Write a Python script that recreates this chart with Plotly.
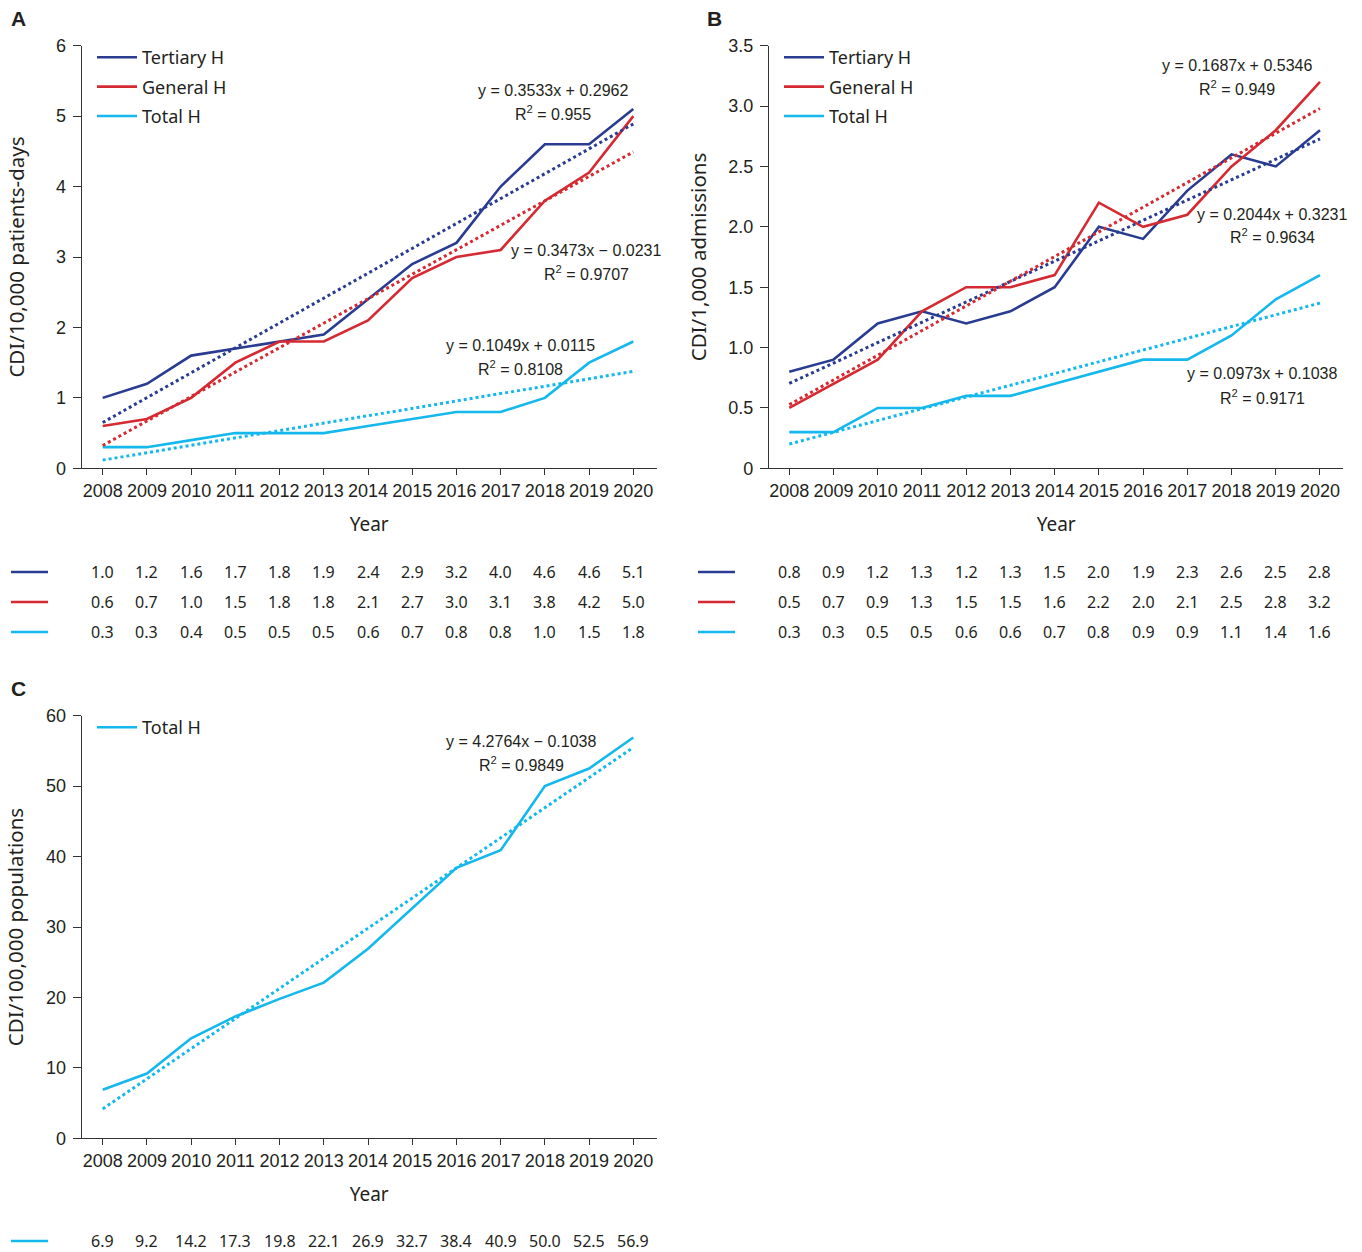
import plotly.graph_objects as go

# ---------------- data ----------------
years = [2008, 2009, 2010, 2011, 2012, 2013, 2014, 2015, 2016, 2017, 2018, 2019, 2020]
series_names = ["Tertiary H", "General H", "Total H"]

a_tertiary = [1.0, 1.2, 1.6, 1.7, 1.8, 1.9, 2.4, 2.9, 3.2, 4.0, 4.6, 4.6, 5.1]
a_general = [0.6, 0.7, 1.0, 1.5, 1.8, 1.8, 2.1, 2.7, 3.0, 3.1, 3.8, 4.2, 5.0]
a_total = [0.3, 0.3, 0.4, 0.5, 0.5, 0.5, 0.6, 0.7, 0.8, 0.8, 1.0, 1.5, 1.8]

b_tertiary = [0.8, 0.9, 1.2, 1.3, 1.2, 1.3, 1.5, 2.0, 1.9, 2.3, 2.6, 2.5, 2.8]
b_general = [0.5, 0.7, 0.9, 1.3, 1.5, 1.5, 1.6, 2.2, 2.0, 2.1, 2.5, 2.8, 3.2]
b_total = [0.3, 0.3, 0.5, 0.5, 0.6, 0.6, 0.7, 0.8, 0.9, 0.9, 1.1, 1.4, 1.6]

c_total = [6.9, 9.2, 14.2, 17.3, 19.8, 22.1, 26.9, 32.7, 38.4, 40.9, 50.0, 52.5, 56.9]

# linear trend coefficients (x = 1..13) and R^2, as printed on the chart
a_slopes = [0.3533, 0.3473, 0.1049]
a_intercepts = [0.2962, -0.0231, 0.0115]
a_r2 = ["0.955", "0.9707", "0.8108"]

b_slopes = [0.1687, 0.2044, 0.0973]
b_intercepts = [0.5346, 0.3231, 0.1038]
b_r2 = ["0.949", "0.9634", "0.9171"]

c_slopes = [4.2764]
c_intercepts = [-0.1038]
c_r2 = ["0.9849"]

a_yticks = [0, 1, 2, 3, 4, 5, 6]
a_yticktext = ["0", "1", "2", "3", "4", "5", "6"]
b_yticks = [0, 0.5, 1.0, 1.5, 2.0, 2.5, 3.0, 3.5]
b_yticktext = ["0", "0.5", "1.0", "1.5", "2.0", "2.5", "3.0", "3.5"]
c_yticks = [0, 10, 20, 30, 40, 50, 60]
c_yticktext = ["0", "10", "20", "30", "40", "50", "60"]

a_ytitle = "CDI/10,000 patients-days"
b_ytitle = "CDI/1,000 admissions"
c_ytitle = "CDI/100,000 populations"
x_title = "Year"

# ---------------- style ----------------
W, H = 1362, 1252
COLORS = ["#2A3C92", "#D52A32", "#14B8EC"]
AXIS_COLOR = "#333333"
TEXT_COLOR = "#231F20"
TICK_FONT = dict(family="Liberation Sans, Arial, sans-serif", size=18, color=TEXT_COLOR)
EQ_FONT = dict(family="Liberation Sans, Arial, sans-serif", size=16, color=TEXT_COLOR)
HUM_FONT = "Noto Sans, Open Sans, sans-serif"


def fx(x):
    return x / W


def fy(y):
    return 1 - y / H


fig = go.Figure()


def trend(slope, intercept):
    return [slope * (i + 1) + intercept for i in range(len(years))]


def add_panel(xa, ya, data_lists, slopes, intercepts, legend_name, color_idx):
    for vals, ci in zip(data_lists, color_idx):
        fig.add_trace(go.Scatter(
            x=years, y=vals, mode="lines", name=series_names[ci],
            line=dict(color=COLORS[ci], width=2.6),
            xaxis=xa, yaxis=ya, legend=legend_name,
            legendgroup=legend_name + series_names[ci], showlegend=True,
        ))
    for s, b, ci in zip(slopes, intercepts, color_idx):
        fig.add_trace(go.Scatter(
            x=years, y=trend(s, b), mode="lines",
            line=dict(color=COLORS[ci], width=3, dash="dot"),
            xaxis=xa, yaxis=ya, showlegend=False, hoverinfo="skip",
        ))


add_panel("x", "y", [a_tertiary, a_general, a_total], a_slopes, a_intercepts, "legend", [0, 1, 2])
add_panel("x2", "y2", [b_tertiary, b_general, b_total], b_slopes, b_intercepts, "legend2", [0, 1, 2])
add_panel("x3", "y3", [c_total], c_slopes, c_intercepts, "legend3", [2])

# ---------------- axes ----------------
axis_common = dict(
    showline=True, linecolor=AXIS_COLOR, linewidth=1.3,
    ticks="outside", tickcolor=AXIS_COLOR, tickwidth=1.3,
    showgrid=False, zeroline=False, tickfont=TICK_FONT, fixedrange=True,
    automargin=False,
)
xaxis_common = dict(
    axis_common, tickvals=years, ticktext=[str(y) for y in years], ticklen=6,
    title=dict(text=x_title, font=dict(family=HUM_FONT, size=19, color=TEXT_COLOR), standoff=17),
)


def ytitle(text, standoff):
    return dict(text=text, font=dict(family=HUM_FONT, size=20.5, color=TEXT_COLOR), standoff=standoff)


A_X = [fx(81.7), fx(656.7)]
B_X = [fx(769), fx(1343.3)]
AB_Y = [fy(468.3), fy(45.7)]
C_Y = [fy(1138.3), fy(715.7)]

fig.update_layout(
    xaxis=dict(xaxis_common, domain=A_X, range=[2007.525, 2020.529], anchor="y"),
    yaxis=dict(axis_common, domain=AB_Y, range=[0, 6], tickvals=a_yticks, ticktext=a_yticktext,
               ticklen=8, ticklabelstandoff=3, anchor="x", title=ytitle(a_ytitle, 25)),
    xaxis2=dict(xaxis_common, domain=B_X, range=[2007.541, 2020.527], anchor="y2"),
    yaxis2=dict(axis_common, domain=AB_Y, range=[0, 3.5], tickvals=b_yticks, ticktext=b_yticktext,
                ticklen=8, ticklabelstandoff=3, anchor="x2", title=ytitle(b_ytitle, 16)),
    xaxis3=dict(xaxis_common, domain=A_X, range=[2007.525, 2020.529], anchor="y3"),
    yaxis3=dict(axis_common, domain=C_Y, range=[0, 60], tickvals=c_yticks, ticktext=c_yticktext,
                ticklen=8, ticklabelstandoff=3, anchor="x3", title=ytitle(c_ytitle, 16)),
)

# ---------------- legends ----------------
leg_common = dict(
    xanchor="left", yanchor="top", bgcolor="rgba(0,0,0,0)", borderwidth=0,
    font=dict(family=HUM_FONT, size=18, color=TEXT_COLOR),
    traceorder="grouped", tracegroupgap=3, itemwidth=40,
)
fig.update_layout(
    legend=dict(leg_common, x=fx(92), y=fy(39)),
    legend2=dict(leg_common, x=fx(779), y=fy(39)),
    legend3=dict(leg_common, x=fx(92), y=fy(709)),
)

# ---------------- annotations ----------------
annotations = []


def eq_text(s, b):
    sign = "+" if b >= 0 else "\u2212"
    return f"y = {s:.4f}x {sign} {abs(b):.4f}"


def add_eq(cx, y1, s, b, r2):
    annotations.append(dict(x=fx(cx), y=fy(y1), xref="paper", yref="paper", text=eq_text(s, b),
                            showarrow=False, xanchor="center", yanchor="middle", font=EQ_FONT))
    annotations.append(dict(x=fx(cx), y=fy(y1 + 22.5), xref="paper", yref="paper",
                            text=f"R<sup>2</sup> = {r2}",
                            showarrow=False, xanchor="center", yanchor="middle", font=EQ_FONT))


a_eq_pos = [(553, 91), (586, 251), (520, 345)]
b_eq_pos = [(1237, 66), (1272, 214), (1262, 374)]
c_eq_pos = [(521, 741)]
for (cx, cy), s, b, r in zip(a_eq_pos, a_slopes, a_intercepts, a_r2):
    add_eq(cx, cy, s, b, r)
for (cx, cy), s, b, r in zip(b_eq_pos, b_slopes, b_intercepts, b_r2):
    add_eq(cx, cy, s, b, r)
for (cx, cy), s, b, r in zip(c_eq_pos, c_slopes, c_intercepts, c_r2):
    add_eq(cx, cy, s, b, r)

for letter, (lx, ly) in zip(["A", "B", "C"], [(18, 18), (714, 18), (18, 688)]):
    annotations.append(dict(x=fx(lx), y=fy(ly), xref="paper", yref="paper", text=f"<b>{letter}</b>",
                            showarrow=False, xanchor="center", yanchor="middle",
                            font=dict(family="Liberation Sans, Arial, sans-serif", size=21, color=TEXT_COLOR)))

shapes = []
TABLE_FONT = dict(family=HUM_FONT, size=16, color=TEXT_COLOR)


def add_table(xref, rows, row_y, color_idx, marker_x0):
    for vals, yy, ci in zip(rows, row_y, color_idx):
        shapes.append(dict(type="line", xref="paper", yref="paper",
                           x0=fx(marker_x0), x1=fx(marker_x0 + 37), y0=fy(yy), y1=fy(yy),
                           line=dict(color=COLORS[ci], width=2.6)))
        for yr, v in zip(years, vals):
            annotations.append(dict(x=yr, y=fy(yy), xref=xref, yref="paper", text=f"{v:.1f}",
                                    showarrow=False, xanchor="center", yanchor="middle", font=TABLE_FONT,
                                    borderpad=0))


add_table("x", [a_tertiary, a_general, a_total], [572, 602, 632], [0, 1, 2], 11)
add_table("x2", [b_tertiary, b_general, b_total], [572, 602, 632], [0, 1, 2], 698)
add_table("x3", [c_total], [1241], [2], 11)

fig.update_layout(
    template="none",
    width=W, height=H, autosize=False,
    margin=dict(l=0, r=0, t=0, b=0, pad=0),
    paper_bgcolor="white", plot_bgcolor="white",
    annotations=annotations, shapes=shapes,
    hovermode=False,
)

fig.write_html("out.html", config={"displayModeBar": False},
               post_script="document.body.style.margin='0px';")
